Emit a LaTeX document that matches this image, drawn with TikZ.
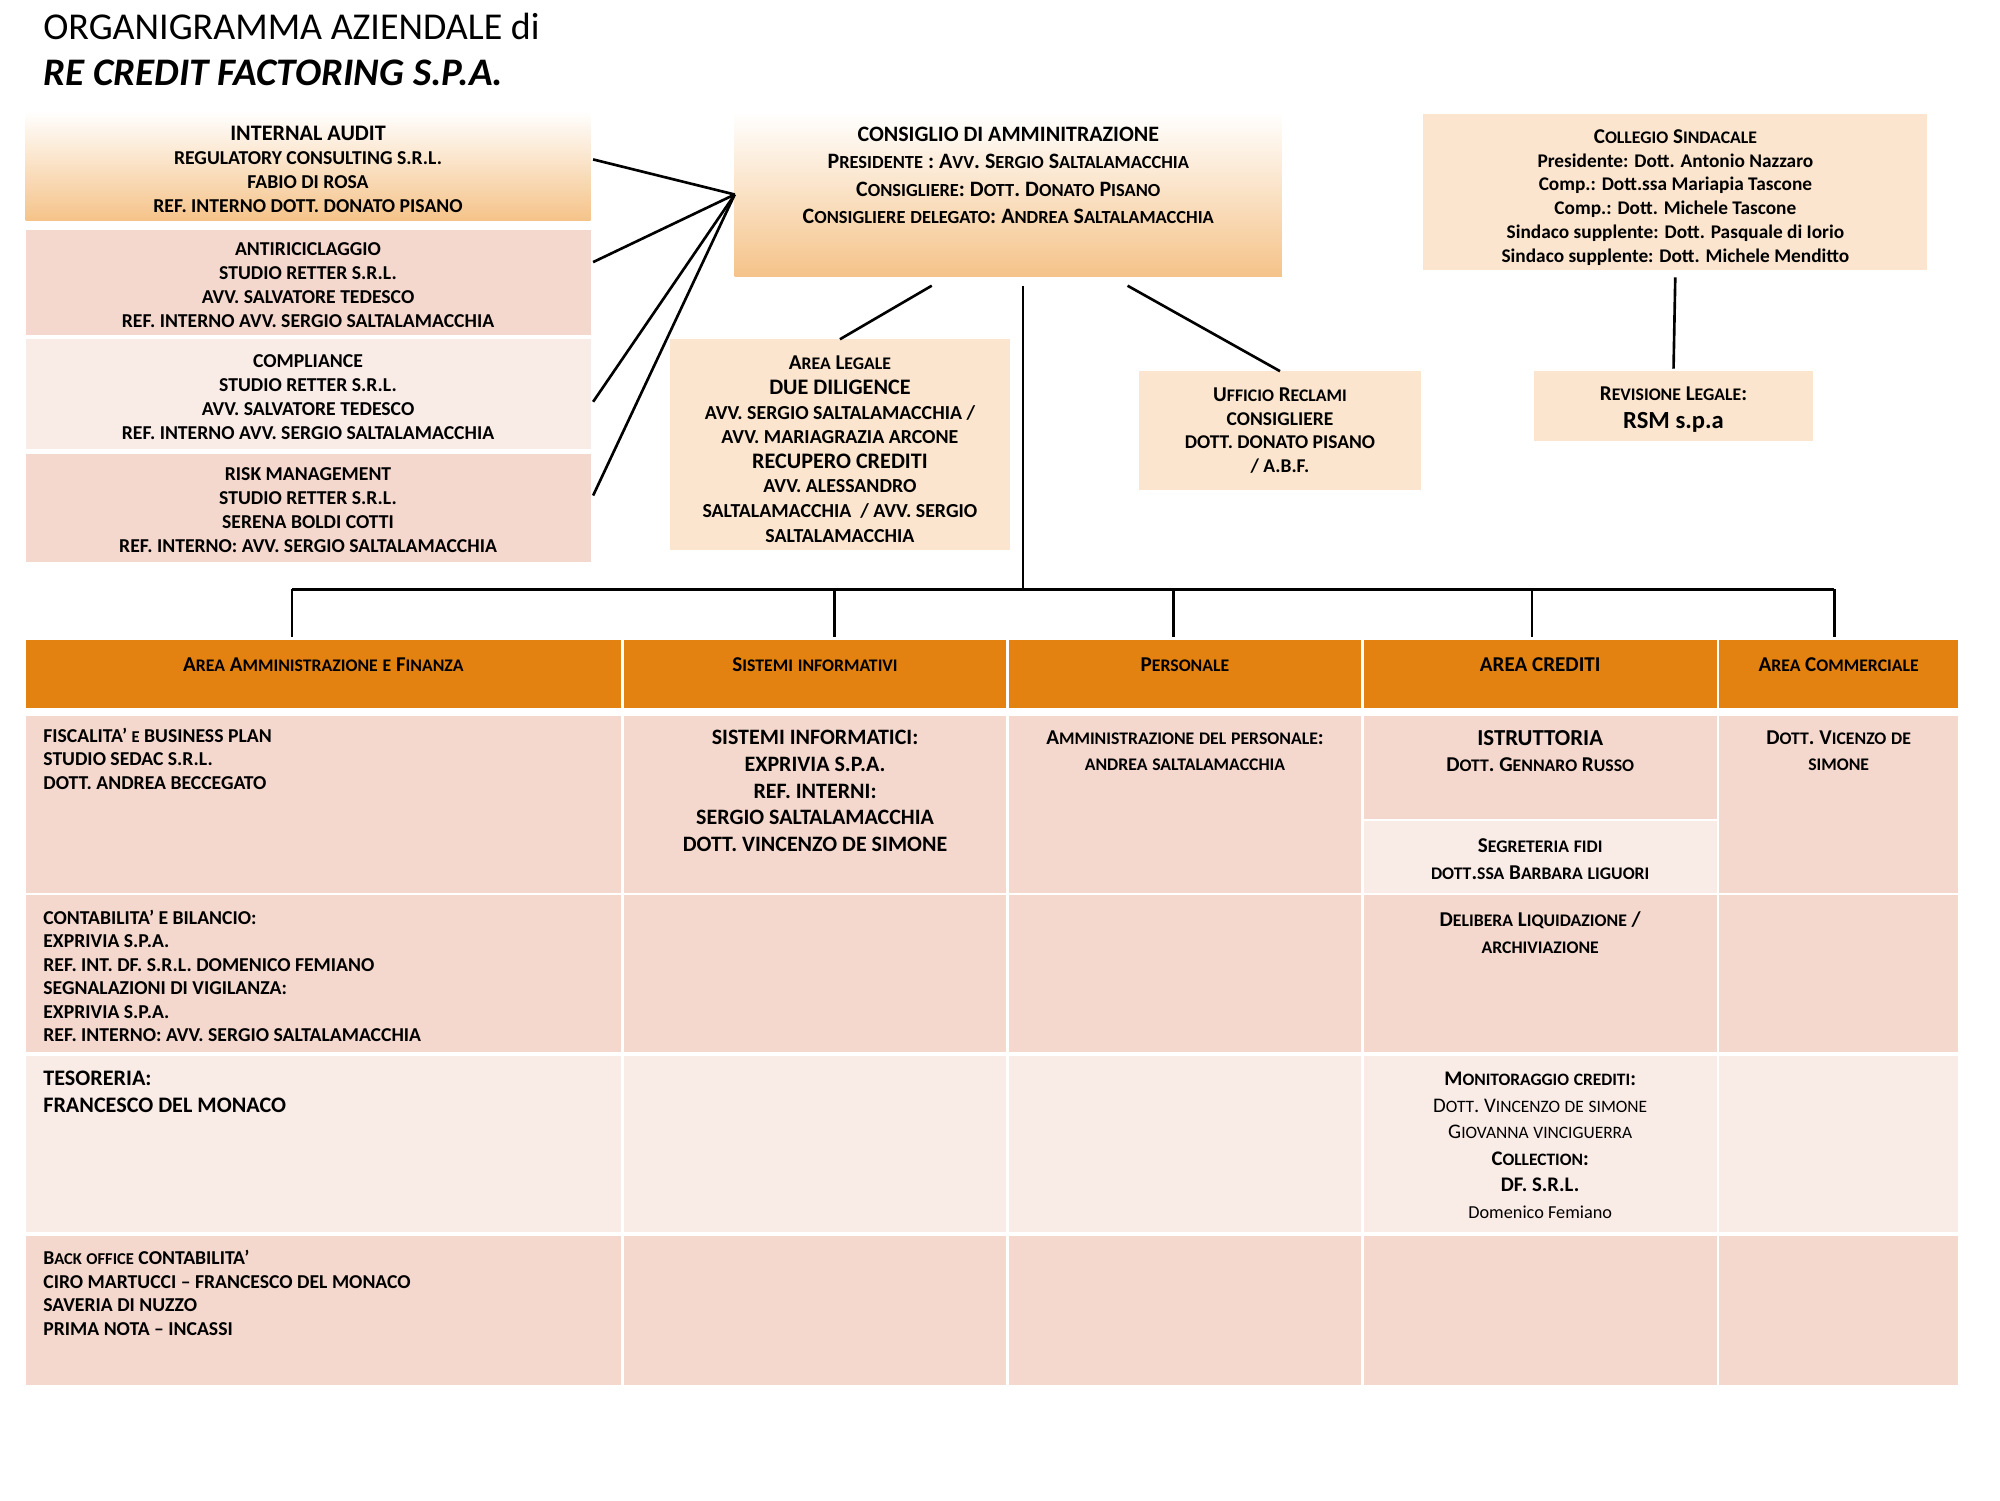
\documentclass[tikz,border=0pt]{standalone}
\usepackage{fontspec}
\setmainfont{Carlito}
\usetikzlibrary{positioning}
\newcommand{\pxu}{0.36292pt}
\definecolor{hdrorange}{RGB}{228,130,17}
\definecolor{pinkc}{RGB}{244,216,205}
\definecolor{lightpink}{RGB}{249,235,230}
\definecolor{peach}{RGB}{251,229,206}
\definecolor{orangeg}{RGB}{245,195,137}
\tikzset{sz/.style 2 args={minimum width={#1*\pxu},minimum height={#2*\pxu}}}
% small capitals made by hand (Carlito has none)
\makeatletter
\newcommand{\smallcapsize}{\fontsize{\fpeval{0.84*\f@size}}{\f@baselineskip}\selectfont}
\makeatother
\ExplSyntaxOn
\cs_new_protected:Npn \fakesc #1
  {
    \str_map_inline:nn {#1}
      {
        \str_if_eq:eeTF { \str_uppercase:n {##1} } { ##1 }
          { ##1 }
          { { \smallcapsize \str_uppercase:n {##1} } }
      }
  }
\ExplSyntaxOff

\begin{document}
\begin{tikzpicture}[x=\pxu,y=-\pxu
  ,every node/.style={inner sep=0pt,outer sep=0pt}
  ,line width=0.75pt]
  \tikzstyle{orgbox}=[anchor=north west,align=center,
  font=\fontsize{5.6}{6.85}\selectfont\bfseries]
  \tikzstyle{gradbox}=[orgbox,top color=white,bottom color=orangeg]
  \tikzstyle{hdr}=[anchor=north west,fill=hdrorange]
  \tikzstyle{cell}=[anchor=north west,fill=pinkc]
  \tikzstyle{hdrtxt}=[anchor=north,font=\fontsize{6}{7}\selectfont\bfseries]
  \tikzstyle{celltxt}=[anchor=north,align=center,
  font=\fontsize{6}{7.6}\selectfont\bfseries]
  \tikzstyle{celltxtl}=[anchor=north west,align=left,
  font=\fontsize{5.6}{6.6}\selectfont\bfseries]

  \useasboundingbox (0,0) rectangle (1568,1176);

  % title
  \node[anchor=base west,font=\fontsize{10.8}{13}\selectfont] (title) at (34,31)
  {ORGANIGRAMMA AZIENDALE di};
  \node[anchor=base west,font=\fontsize{11.1}{13}\selectfont\bfseries\itshape] (company)
  at (34,67) {RE CREDIT FACTORING S.P.A.};

  % control functions on the left
  \node[gradbox,sz={443}{86}] (audit) at (20,87)
  {{\fontsize{6.3}{6.85}\selectfont\rule{0pt}{6.2pt}INTERNAL AUDIT}\\
    REGULATORY CONSULTING S.R.L.\\FABIO DI ROSA\\REF. INTERNO DOTT. DONATO PISANO};
  \node[orgbox,fill=pinkc,sz={443}{83}] (aml) at (20,180)
  {\rule{0pt}{5pt}ANTIRICICLAGGIO\\STUDIO RETTER S.R.L.\\
    AVV. SALVATORE TEDESCO\\REF. INTERNO AVV. SERGIO SALTALAMACCHIA};
  \node[orgbox,fill=lightpink,sz={443}{86}] (compl) at (20,266)
  {\rule{0pt}{5.5pt}COMPLIANCE\\STUDIO RETTER S.R.L.\\
    AVV. SALVATORE TEDESCO\\REF. INTERNO AVV. SERGIO SALTALAMACCHIA};
  \node[orgbox,fill=pinkc,sz={443}{85}] (risk) at (20,356)
  {\rule{0pt}{4.6pt}RISK MANAGEMENT\\STUDIO RETTER S.R.L.\\
    SERENA BOLDI COTTI\\REF. INTERNO: AVV. SERGIO SALTALAMACCHIA};

  % board
  \node[gradbox,sz={429}{129}] (cda) at (576,88) {};
  \node[align=center,font=\fontsize{6.25}{7.7}\selectfont\bfseries] (cdatxt)
  at ([shift={(0,-15)}]cda.center)
  {CONSIGLIO DI AMMINITRAZIONE\\
    \fakesc{Presidente : Avv. Sergio Saltalamacchia}\\
    \fakesc{Consigliere: Dott. Donato Pisano}\\
    \fakesc{Consigliere delegato: Andrea Saltalamacchia}};

  \node[orgbox,fill=peach,sz={267}{165},font=\fontsize{5.65}{7}\selectfont\bfseries]
  (legal) at (525,266)
  {{\fontsize{6}{7}\selectfont\rule{0pt}{6.6pt}\fakesc{Area Legale}}\\
    {\fontsize{6.3}{7}\selectfont DUE DILIGENCE}\\
    AVV. SERGIO SALTALAMACCHIA /\\AVV. MARIAGRAZIA ARCONE\\
    {\fontsize{6.3}{7}\selectfont RECUPERO CREDITI}\\
    AVV. ALESSANDRO\\SALTALAMACCHIA~~/ AVV. SERGIO\\SALTALAMACCHIA};
  \node[orgbox,fill=peach,sz={221}{93},font=\fontsize{5.55}{6.7}\selectfont\bfseries]
  (claims) at (893,291)
  {{\fontsize{6}{6.7}\selectfont\fakesc{Ufficio Reclami}}\\CONSIGLIERE\\
    DOTT. DONATO PISANO\\/ A.B.F.};

  % statutory auditors
  \node[orgbox,fill=peach,sz={395}{123},font=\fontsize{5.5}{6.8}\selectfont\bfseries]
  (statut) at (1116,89)
  {{\fontsize{6}{6.8}\selectfont\rule{0pt}{7.1pt}\fakesc{Collegio Sindacale}}\\
    Presidente: Dott. Antonio Nazzaro\\Comp.: Dott.ssa Mariapia Tascone\\
    Comp.: Dott. Michele Tascone\\Sindaco supplente: Dott. Pasquale di Iorio\\
    Sindaco supplente: Dott. Michele Menditto};
  \node[orgbox,fill=peach,sz={218}{55},font=\fontsize{7}{8}\selectfont\bfseries]
  (revis) at (1203,291)
  {{\fontsize{6}{8}\selectfont\rule{0pt}{6pt}\fakesc{Revisione Legale:}}\\RSM s.p.a};

  % header row
  \node[hdr,sz={467}{53}] (hafin) at (20,502) {};
  \node[hdr,sz={300}{53}] (hsis) at (489,502) {};
  \node[hdr,sz={276}{53}] (hpers) at (791,502) {};
  \node[hdr,sz={277}{53}] (hcred) at (1069,502) {};
  \node[hdr,sz={187}{53}] (hcomm) at (1348,502) {};
  \node[hdrtxt] (tafin) at ([shift={(0,14)}]hafin.north)
  {\fakesc{Area Amministrazione e Finanza}};
  \node[hdrtxt] (tsis) at ([shift={(0,14)}]hsis.north) {\fakesc{Sistemi informativi}};
  \node[hdrtxt] (tpers) at ([shift={(0,14)}]hpers.north) {\fakesc{Personale}};
  \node[hdrtxt] (tcred) at ([shift={(0,14)}]hcred.north) {AREA CREDITI};
  \node[hdrtxt] (tcomm) at ([shift={(0,14)}]hcomm.north) {\fakesc{Area Commerciale}};

  % body rows
  \node[cell,sz={467}{139}] (fisc) at (20,561) {};
  \node[cell,sz={300}{139}] (sist) at (489,561) {};
  \node[cell,sz={276}{139}] (ammp) at (791,561) {};
  \node[cell,sz={277}{81}] (istr) at (1069,561) {};
  \node[cell,fill=lightpink,sz={277}{56}] (segr) at (1069,644) {};
  \node[cell,sz={187}{139}] (comm) at (1348,561) {};
  \node[cell,sz={467}{123}] (cont) at (20,702) {};
  \node[cell,sz={277}{123}] (delib) at (1069,702) {};
  \node[cell,fill=lightpink,sz={467}{138}] (tes) at (20,828) {};
  \node[cell,fill=lightpink,sz={277}{138}] (monit) at (1069,828) {};
  \node[cell,sz={467}{117}] (back) at (20,969) {};
  \node[cell,sz={277}{117}] (crd4) at (1069,969) {};
  \foreach \x/\w/\n in {489/300/sis,791/276/pers,1348/187/comm}{
    \node[cell,sz={\w}{123}] (\n2) at (\x,702) {};
    \node[cell,fill=lightpink,sz={\w}{138}] (\n3) at (\x,828) {};
    \node[cell,sz={\w}{117}] (\n4) at (\x,969) {};
  }

  \node[celltxtl] (tfisc) at ([shift={(14,10)}]fisc.north west)
  {FISCALITA’ \fakesc{e} BUSINESS PLAN\\STUDIO SEDAC S.R.L.\\DOTT. ANDREA BECCEGATO};
  \node[celltxt,font=\fontsize{6.25}{7.6}\selectfont\bfseries] (tsist)
  at ([shift={(0,11.5)}]sist.north)
  {SISTEMI INFORMATICI:\\EXPRIVIA S.P.A.\\REF. INTERNI:\\
    SERGIO SALTALAMACCHIA\\DOTT. VINCENZO DE SIMONE};
  \node[celltxt] (tammp) at ([shift={(0,11.7)}]ammp.north)
  {\fakesc{Amministrazione del personale:}\\\fakesc{andrea saltalamacchia}};
  \node[celltxt] (tistr) at ([shift={(0,11.5)}]istr.north)
  {{\fontsize{6.5}{7.6}\selectfont ISTRUTTORIA}\\\fakesc{Dott. Gennaro Russo}};
  \node[celltxt] (tsegr) at ([shift={(0,13.7)}]segr.north)
  {\fakesc{Segreteria fidi}\\\fakesc{dott.ssa Barbara liguori}};
  \node[celltxt] (tcomm1) at ([shift={(0,11.7)}]comm.north)
  {\fakesc{Dott. Vicenzo de}\\\fakesc{simone}};
  \node[celltxtl,font=\fontsize{5.6}{6.7}\selectfont\bfseries] (tcont)
  at ([shift={(14,11.3)}]cont.north west)
  {CONTABILITA’ E BILANCIO:\\EXPRIVIA S.P.A.\\REF. INT. DF. S.R.L. DOMENICO FEMIANO\\
    SEGNALAZIONI DI VIGILANZA:\\EXPRIVIA S.P.A.\\REF. INTERNO: AVV. SERGIO SALTALAMACCHIA};
  \node[celltxt] (tdelib) at ([shift={(0,12.7)}]delib.north)
  {\fakesc{Delibera Liquidazione /}\\\fakesc{archiviazione}};
  \node[celltxtl,font=\fontsize{6.3}{7.7}\selectfont\bfseries] (ttes)
  at ([shift={(14,11.5)}]tes.north west) {TESORERIA:\\FRANCESCO DEL MONACO};
  \node[celltxt,font=\fontsize{5.9}{7.55}\selectfont] (tmonit)
  at ([shift={(0,12.7)}]monit.north)
  {\textbf{\fakesc{Monitoraggio crediti:}}\\\fakesc{Dott. Vincenzo de simone}\\
    \fakesc{Giovanna vinciguerra}\\\textbf{\fakesc{Collection:}}\\
    \textbf{DF. S.R.L.}\\{\fontsize{5.2}{7.55}\selectfont Domenico Femiano}};
  \node[celltxtl,font=\fontsize{5.6}{6.7}\selectfont\bfseries] (tback)
  at ([shift={(14,11.3)}]back.north west)
  {\fakesc{Back office} CONTABILITA’\\CIRO MARTUCCI – FRANCESCO DEL MONACO\\
    SAVERIA DI NUZZO\\PRIMA NOTA – INCASSI};

  % connectors
  \draw (cda.west) -- ([shift={(2,-5)}]audit.east);
  \draw (cda.west) -- ([shift={(2,-16)}]aml.east);
  \draw (cda.west) -- ([shift={(2,6)}]compl.east);
  \draw (cda.west) -- ([shift={(2,-10)}]risk.east);
  \draw ([shift={(-60,7)}]cda.south) -- (legal.north);
  \draw ([shift={(93.5,7)}]cda.south) -- (claims.north);
  \draw[shorten <=2pt,shorten >=0.7pt] (statut.south) -- (revis.north);

  \coordinate (cdaout) at ([shift={(11.5,7)}]cda.south);
  \coordinate (busl) at (229,462);
  \coordinate (busr) at (1438,462);
  \draw (cdaout) -- (cdaout |- busl);
  \draw[line width=0.9pt] (busl) -- (busr);
  \foreach \x/\h in {229/hafin,654/hsis,920/hpers,1201/hcred,1438/hcomm}
  \draw[shorten >=1pt] (\x,462) -- (\x,462 |- \h.north);

\end{tikzpicture}
\end{document}
